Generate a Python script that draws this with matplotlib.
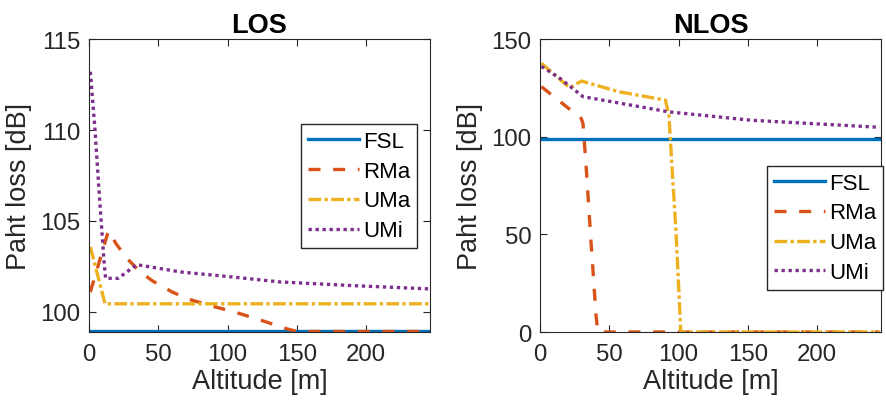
import matplotlib
matplotlib.use('Agg')
import matplotlib.pyplot as plt

plt.rcParams['font.family'] = ['Liberation Sans', 'DejaVu Sans']

# couleurs MATLAB par defaut
c_fsl = '#0072BD'
c_rma = '#D95319'
c_uma = '#EDB120'
c_umi = '#7E2F8E'

# --- LOS ---
los_fsl_x = [1, 245]
los_fsl_y = [98.93, 98.93]
los_rma_x = [1, 14, 20, 28, 37, 46, 60, 72, 90, 105, 126, 143, 150, 245]
los_rma_y = [101.1, 104.45, 103.7, 102.9, 102.2, 101.7, 101.1, 100.7, 100.3, 100.0, 99.5, 99.07, 98.93, 98.93]
los_uma_x = [1, 11.6, 245]
los_uma_y = [103.57, 100.45, 100.45]
los_umi_x = [1, 4.3, 7.5, 10.9, 12, 21, 34.5, 66, 100, 138, 190, 245]
los_umi_y = [113.2, 110.05, 106.4, 102.75, 101.85, 101.85, 102.6, 102.2, 101.95, 101.65, 101.45, 101.27]

# --- NLOS ---
nlos_fsl_x = [1, 245]
nlos_fsl_y = [98.93, 98.93]
nlos_rma_x = [1, 29.8, 31, 33.4, 37, 40.5, 41.7, 245]
nlos_rma_y = [125.6, 109.3, 106.7, 83.5, 44, 7.9, 0, 0]
nlos_uma_x = [1, 21.4, 29.8, 57, 90.5, 93, 95.3, 98, 101.6, 245]
nlos_uma_y = [137.6, 125, 128.5, 123, 118.7, 111, 84, 52.6, 0, 0]
nlos_umi_x = [1, 14.3, 31, 93, 152.6, 245]
nlos_umi_y = [136, 129.9, 120.5, 112.7, 108.4, 104.8]

noms = ['FSL', 'RMa', 'UMa', 'UMi']

fig = plt.figure(figsize=(8.87, 4.10), dpi=100)
ax1 = fig.add_axes([0.1003, 0.1878, 0.3844, 0.7146])
ax2 = fig.add_axes([0.6088, 0.1878, 0.3844, 0.7146])

lw = 2.4


def tracer(ax, fx, fy, rx, ry, ux, uy, mx, my):
    ax.plot(fx, fy, color=c_fsl, lw=lw, label=noms[0])
    ax.plot(rx, ry, color=c_rma, lw=lw, dashes=(3.6, 3.8), label=noms[1])
    ax.plot(ux, uy, color=c_uma, lw=lw, dashes=(3.8, 1.0, 1.0, 1.0), label=noms[2])
    ax.plot(mx, my, color=c_umi, lw=lw, dashes=(1.0, 1.1), label=noms[3])
    ax.set_xlim(0, 246)
    ax.set_xticks([0, 50, 100, 150, 200])
    ax.tick_params(direction='in', top=True, right=True, labelsize=17.3,
                   length=5, color='#262626', labelcolor='#262626', pad=6)
    ax.tick_params(axis='x', pad=8)
    for s in ax.spines.values():
        s.set_color('#262626')
        s.set_linewidth(0.8)
    ax.set_xlabel('Altitude [m]', fontsize=19.5, color='#262626', labelpad=2)
    ax.set_ylabel('Paht loss [dB]', fontsize=19.5, color='#262626', labelpad=6)


def legende(ax, ancre):
    ax.legend(loc='upper right', bbox_to_anchor=ancre, fontsize=16,
              handlelength=2.3, handletextpad=0.2, labelspacing=0.4,
              borderpad=0.3, borderaxespad=0, fancybox=False,
              edgecolor='#262626', framealpha=1)


tracer(ax1, los_fsl_x, los_fsl_y, los_rma_x, los_rma_y,
       los_uma_x, los_uma_y, los_umi_x, los_umi_y)
ax1.set_ylim(98.9, 115)
ax1.set_yticks([100, 105, 110, 115])
ax1.set_title('LOS', fontsize=19.5, fontweight='bold', pad=5)
legende(ax1, (0.962, 0.71))

tracer(ax2, nlos_fsl_x, nlos_fsl_y, nlos_rma_x, nlos_rma_y,
       nlos_uma_x, nlos_uma_y, nlos_umi_x, nlos_umi_y)
ax2.set_ylim(0, 150)
ax2.set_yticks([0, 50, 100, 150])
ax2.set_title('NLOS', fontsize=19.5, fontweight='bold', pad=5)
legende(ax2, (1.006, 0.567))

fig.savefig('out.png', dpi=100)
